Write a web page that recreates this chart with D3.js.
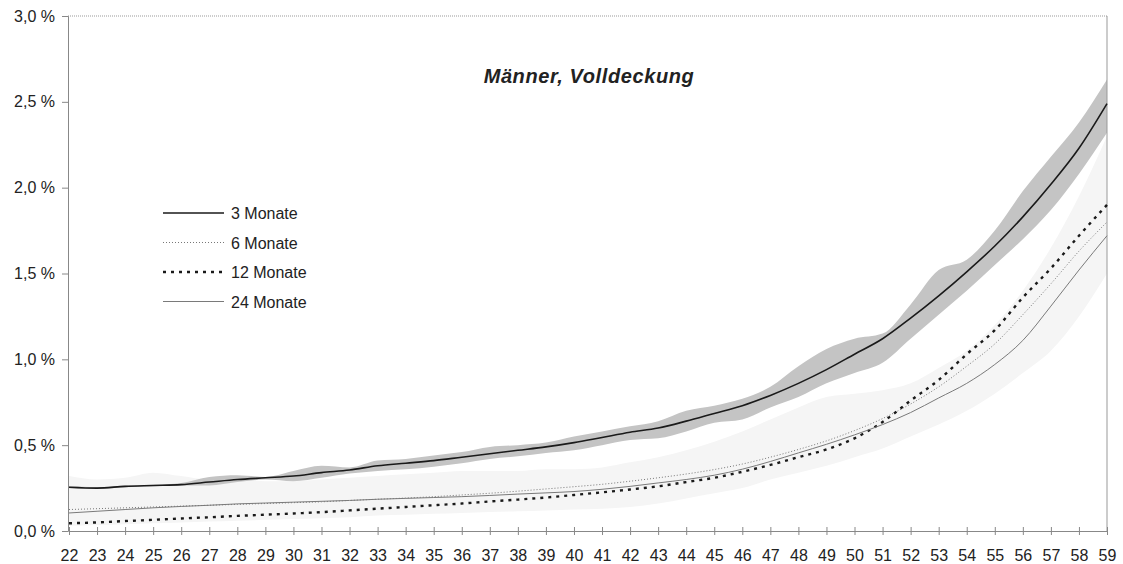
<!DOCTYPE html>
<html>
<head>
<meta charset="utf-8">
<script src="https://cdn.jsdelivr.net/npm/d3@7"></script>
<title>Männer, Volldeckung</title>
<style>
body { margin: 0; background: #fff; }
text { font-family: "Liberation Sans", Arial, sans-serif; fill: #222; }
</style>
</head>
<body>
<script>

// Alter 22..59
var ages = d3.range(22, 60);

var m3  = [0.255,0.25,0.26,0.265,0.27,0.285,0.30,0.31,0.32,0.34,0.355,0.38,0.395,0.41,0.43,0.45,0.47,0.49,0.515,0.545,0.575,0.60,0.64,0.685,0.73,0.79,0.86,0.94,1.03,1.12,1.24,1.37,1.51,1.66,1.83,2.02,2.23,2.49];
var m6  = [0.125,0.13,0.135,0.14,0.145,0.15,0.155,0.16,0.165,0.17,0.178,0.185,0.192,0.20,0.21,0.22,0.232,0.245,0.258,0.272,0.29,0.31,0.332,0.358,0.39,0.43,0.475,0.525,0.585,0.655,0.74,0.84,0.96,1.09,1.26,1.44,1.63,1.80];
var m12 = [0.045,0.05,0.058,0.065,0.073,0.08,0.088,0.095,0.102,0.11,0.12,0.13,0.14,0.15,0.16,0.172,0.183,0.195,0.21,0.225,0.242,0.26,0.285,0.31,0.345,0.385,0.43,0.475,0.54,0.635,0.76,0.88,1.03,1.17,1.36,1.53,1.72,1.90];
var m24 = [0.105,0.115,0.125,0.135,0.143,0.15,0.158,0.163,0.168,0.173,0.178,0.185,0.19,0.195,0.20,0.207,0.215,0.222,0.23,0.243,0.26,0.28,0.30,0.325,0.36,0.405,0.455,0.505,0.56,0.62,0.69,0.775,0.86,0.97,1.11,1.31,1.52,1.72];

// Schwankungsband um 3 Monate
var bandLo = [0.25,0.245,0.255,0.26,0.265,0.265,0.285,0.30,0.29,0.31,0.335,0.35,0.36,0.375,0.395,0.42,0.435,0.455,0.47,0.50,0.53,0.54,0.58,0.63,0.65,0.72,0.78,0.86,0.92,0.98,1.12,1.26,1.40,1.55,1.70,1.87,2.08,2.32];
var bandHi = [0.26,0.255,0.265,0.27,0.28,0.315,0.325,0.315,0.35,0.38,0.37,0.41,0.42,0.44,0.46,0.49,0.50,0.515,0.55,0.58,0.61,0.64,0.70,0.73,0.77,0.84,0.96,1.06,1.12,1.15,1.32,1.52,1.58,1.75,1.98,2.18,2.38,2.63];

// blasses Band um die übrigen Kurven
var faintLo = [0.03,0.035,0.04,0.045,0.05,0.055,0.06,0.065,0.07,0.075,0.08,0.09,0.095,0.10,0.105,0.11,0.115,0.12,0.125,0.13,0.14,0.16,0.19,0.22,0.25,0.30,0.34,0.38,0.43,0.48,0.55,0.62,0.70,0.80,0.92,1.05,1.25,1.50];
var faintHi = [0.32,0.30,0.31,0.34,0.32,0.30,0.30,0.29,0.29,0.30,0.31,0.32,0.33,0.34,0.35,0.35,0.35,0.36,0.36,0.37,0.40,0.43,0.47,0.52,0.58,0.65,0.72,0.78,0.80,0.82,0.86,0.95,1.05,1.20,1.40,1.65,1.95,2.30];

var yTicks = [0, 0.5, 1, 1.5, 2, 2.5, 3];
var seriesNames = ["3 Monate", "6 Monate", "12 Monate", "24 Monate"];

var width = 1123,
    height = 564;

var svg = d3.select("body")
  .append("svg")
  .attr("width", width)
  .attr("height", height);

var x = d3.scaleLinear().domain([22, 59]).range([69, 1107]);
var y = d3.scaleLinear().domain([0, 3]).range([531, 16]);

// Bänder
var area = function(lo, hi) {
  return d3.area()
    .x(function(d, i) { return x(ages[i]); })
    .y0(function(d, i) { return y(lo[i]); })
    .y1(function(d, i) { return y(hi[i]); })
    .curve(d3.curveMonotoneX)(ages);
};

svg.append("path").attr("d", area(faintLo, faintHi)).attr("fill", "#f5f5f5");
svg.append("path").attr("d", area(bandLo, bandHi)).attr("fill", "#c4c4c4");

// Rahmen
svg.append("line")
  .attr("x1", 68).attr("x2", 1107).attr("y1", 16).attr("y2", 16)
  .attr("stroke", "#999").attr("stroke-dasharray", "1,1");
svg.append("line")
  .attr("x1", 1107).attr("x2", 1107).attr("y1", 16).attr("y2", 531)
  .attr("stroke", "#999");

// Achsen
var yAxis = svg.append("g")
  .attr("transform", "translate(68,0)")
  .call(d3.axisLeft(y)
    .tickValues(yTicks)
    .tickSize(6)
    .tickPadding(6)
    .tickFormat(function(d) { return d3.format(".1f")(d).replace(".", ",") + " %"; }));
yAxis.select(".domain").attr("stroke", "#888");
yAxis.selectAll(".tick line").attr("stroke", "#888");
yAxis.selectAll("text").attr("x", -13).style("font-size", "16px").attr("fill", "#222");

var xAxis = svg.append("g")
  .attr("transform", "translate(0,531)")
  .call(d3.axisBottom(x)
    .tickValues(ages)
    .tickSizeOuter(0)
    .tickFormat(d3.format("d")));
xAxis.select(".domain").attr("stroke", "#888");
xAxis.selectAll(".tick line").attr("y1", -4).attr("y2", 4).attr("stroke", "#888");
xAxis.selectAll("text").attr("y", 30).attr("dy", null).style("font-size", "16px").attr("fill", "#222");

// Linien
var line = d3.line()
  .x(function(d, i) { return x(ages[i]); })
  .y(function(d) { return y(d); })
  .curve(d3.curveMonotoneX);

var styles = [
  { data: m3,  stroke: "#1a1a1a", w: 1.6, dash: null },
  { data: m6,  stroke: "#777",    w: 1,   dash: "1,2" },
  { data: m12, stroke: "#1a1a1a", w: 2.4, dash: "3,5" },
  { data: m24, stroke: "#7a7a7a", w: 1,   dash: null }
];

svg.selectAll("path.serie")
  .data(styles)
  .enter()
  .append("path")
  .attr("class", "serie")
  .attr("d", function(d) { return line(d.data); })
  .attr("fill", "none")
  .attr("stroke", function(d) { return d.stroke; })
  .attr("stroke-width", function(d) { return d.w; })
  .attr("stroke-dasharray", function(d) { return d.dash; });

// Titel
svg.append("text")
  .attr("x", 589).attr("y", 83)
  .attr("text-anchor", "middle")
  .style("font-size", "20px")
  .style("font-weight", "bold")
  .style("font-style", "italic")
  .style("letter-spacing", "0.6px")
  .text("Männer, Volldeckung");

// Legende
var legend = svg.selectAll("g.leg")
  .data(styles)
  .enter()
  .append("g")
  .attr("class", "leg")
  .attr("transform", function(d, i) { return "translate(163," + (213 + i * 29.5) + ")"; });

legend.append("line")
  .attr("x1", 0).attr("x2", 61)
  .attr("stroke", function(d) { return d.stroke; })
  .attr("stroke-width", function(d) { return d.w; })
  .attr("stroke-dasharray", function(d) { return d.dash; });

legend.append("text")
  .attr("x", 68).attr("y", 6)
  .style("font-size", "16px")
  .text(function(d, i) { return seriesNames[i]; });

</script>
</body>
</html>
